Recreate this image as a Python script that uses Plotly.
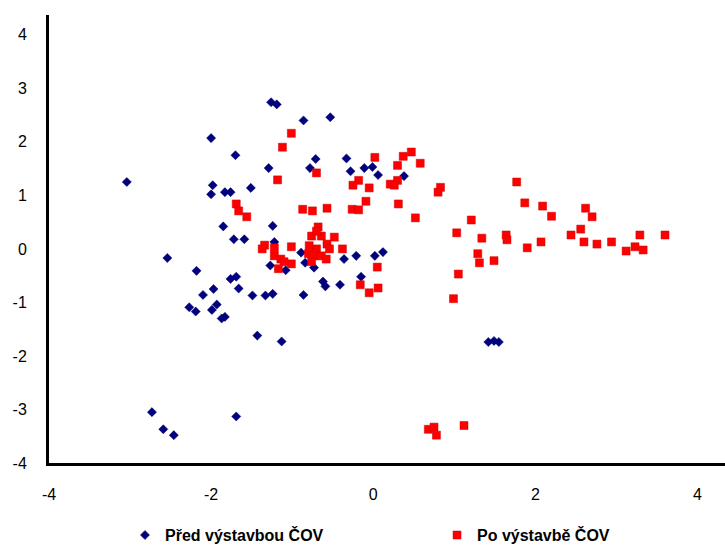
import plotly.graph_objects as go

# Scores before construction of the wastewater treatment plant (ČOV)
before_x = [-3.04, -2.00, -1.70, -1.98, -2.00, -1.83, -1.76, -1.51, -1.85, -1.72,
            -1.59, -1.26, -1.19, -0.86, -0.53, -1.29, -0.71, -0.78, -0.33, -0.28,
            -0.11, -0.01, 0.06, 0.38, -1.24, -1.22, -0.89, -0.36, -0.21, 0.02,
            0.12, -1.27, -1.08, -0.73, -0.15, -0.62, -0.59, -0.41, -0.86, -2.54,
            -2.18, -1.76, -1.69, -1.97, -1.66, -2.10, -1.49, -1.33, -1.24, -2.27,
            -2.19, -1.99, -1.93, -1.87, -1.83, -1.43, -1.13, 1.42, 1.49, 1.55,
            -2.73, -2.59, -2.46, -1.69, -0.84]
before_y = [1.25, 2.07, 1.75, 1.19, 1.02, 1.06, 1.06, 1.14, 0.42, 0.18,
            0.18, 2.74, 2.70, 2.40, 2.46, 1.51, 1.68, 1.51, 1.69, 1.45,
            1.51, 1.53, 1.38, 1.36, 0.43, 0.13, -0.07, -0.19, -0.13, -0.13,
            -0.06, -0.31, -0.40, -0.35, -0.52, -0.61, -0.70, -0.67, -0.86, -0.17,
            -0.41, -0.56, -0.52, -0.75, -0.74, -0.86, -0.87, -0.87, -0.84, -1.09,
            -1.17, -1.14, -1.04, -1.30, -1.27, -1.62, -1.73, -1.74, -1.72, -1.74,
            -3.05, -3.37, -3.48, -3.13, -0.26]

# Scores after construction of the wastewater treatment plant (ČOV)
after_x = [-1.01, -1.12, -0.70, -1.18, -1.69, -1.66, -1.56, -0.87, -0.75, -0.57,
           0.02, 0.30, 0.37, 0.47, 0.58, -0.18, -0.25, -0.05, 0.21, 0.30,
           0.26, 0.83, 0.80, -0.09, 0.31, -0.26, -0.18, 0.52, 1.21, 1.03,
           1.34, 0.05, 1.05, 1.29, 1.31, 1.49, 0.99, -0.68, -0.76, -0.64,
           -0.48, -0.57, -0.54, -0.38, -0.79, -0.70, -0.80, -0.73, -0.64, -0.76,
           -0.58, -1.01, -1.01, -0.16, -0.05, 0.06, -1.34, -1.37, -1.22, -1.22,
           -1.14, -1.10, -1.17, 1.77, 1.87, 2.09, 2.20, 2.62, 2.70, 2.56,
           2.44, 1.64, 1.65, 1.90, 2.07, 2.60, 2.76, 2.94, 3.29, 3.60,
           3.12, 3.23, 3.33, 0.68, 0.75, 0.78, 1.12, -0.70]
after_y = [2.16, 1.90, 1.42, 1.29, 0.84, 0.71, 0.60, 0.74, 0.71, 0.76,
           1.71, 1.56, 1.73, 1.81, 1.60, 1.28, 1.19, 1.14, 1.21, 1.28,
           1.19, 1.15, 1.06, 0.89, 0.84, 0.74, 0.73, 0.58, 0.54, 0.30,
           0.20, -0.34, -0.47, -0.09, -0.26, -0.22, -0.93, 0.41, 0.24, 0.24,
           0.22, 0.09, 0.00, 0.00, 0.06, 0.00, -0.09, -0.13, -0.13, -0.24,
           -0.19, 0.04, -0.28, -0.67, -0.82, -0.73, 0.07, 0.00, 0.02, -0.13,
           -0.19, -0.24, -0.37, 1.25, 0.86, 0.80, 0.61, 0.76, 0.60, 0.37,
           0.26, 0.26, 0.17, 0.02, 0.13, 0.13, 0.09, 0.13, 0.26, 0.26,
           -0.04, 0.04, -0.02, -3.37, -3.33, -3.48, -3.30, 0.33]

x_tick_vals = [-4, -2, 0, 2, 4]
x_tick_text = ["-4", "-2", "0", "2", "4"]
y_tick_vals = [-4, -3, -2, -1, 0, 1, 2, 3, 4]
y_tick_text = ["-4", "-3", "-2", "-1", "0", "1", "2", "3", "4"]

font_family = "Liberation Sans, Arial, sans-serif"
legend_font = dict(family=font_family, size=16, color="black", weight="bold")

fig = go.Figure()
fig.add_trace(go.Scatter(
    x=before_x, y=before_y, mode="markers", name="Před výstavbou ČOV",
    legend="legend",
    marker=dict(symbol="diamond", size=7, color="#000080",
                line=dict(width=0.5, color="#000060")),
))
fig.add_trace(go.Scatter(
    x=after_x, y=after_y, mode="markers", name="Po výstavbě ČOV",
    legend="legend2",
    marker=dict(symbol="square", size=8, color="#FF0000",
                line=dict(width=0.5, color="#cc0000")),
))

fig.update_layout(
    width=725, height=556,
    margin=dict(l=49, r=0, t=15, b=93),
    paper_bgcolor="white", plot_bgcolor="white",
    font=dict(family=font_family, size=16, color="black"),
    showlegend=True,
    legend=dict(x=0.1124, xanchor="left", y=-0.161, yanchor="middle",
                font=legend_font, bgcolor="rgba(0,0,0,0)"),
    legend2=dict(x=0.574, xanchor="left", y=-0.161, yanchor="middle",
                 font=legend_font, bgcolor="rgba(0,0,0,0)"),
    xaxis=dict(
        range=[-4, 4.34], tickvals=x_tick_vals, ticktext=x_tick_text,
        showgrid=False, zeroline=False,
        showline=True, linecolor="black", linewidth=3, ticks="",
        ticklabelstandoff=15, tickfont=dict(size=16),
    ),
    yaxis=dict(
        range=[-4, 4.37], tickvals=y_tick_vals, ticktext=y_tick_text,
        showgrid=False, zeroline=False,
        showline=True, linecolor="black", linewidth=3, ticks="",
        ticklabelstandoff=16, tickfont=dict(size=16),
    ),
)

fig.write_html("out.html")
